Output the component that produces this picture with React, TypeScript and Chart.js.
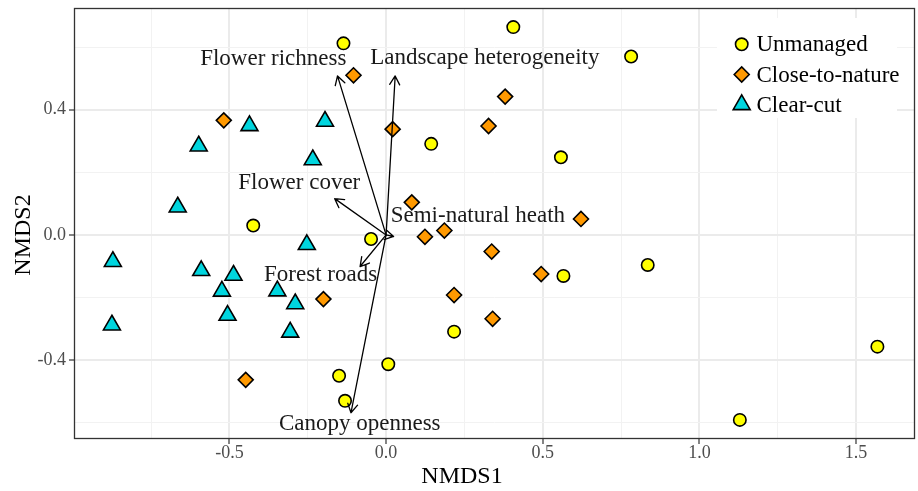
import React, { useEffect, useRef } from 'react';
import { Chart, registerables } from 'chart.js';
import { drawPoint } from 'chart.js/helpers';

Chart.register(...registerables);

// ---------- data ----------
const unmanagedX = [-0.136, 0.406, 0.782, 0.144, 0.558, -0.424, -0.048, 0.566, 0.835, 0.217, 0.007, -0.150, -0.131, 1.568, 1.129];
const unmanagedY = [0.612, 0.664, 0.570, 0.291, 0.248, 0.030, -0.013, -0.131, -0.096, -0.309, -0.413, -0.450, -0.530, -0.357, -0.591];

const closeX = [-0.104, -0.518, 0.021, 0.380, 0.327, 0.082, 0.124, 0.186, 0.622, 0.337, 0.495, 0.217, -0.200, 0.340, -0.448];
const closeY = [0.510, 0.366, 0.338, 0.442, 0.348, 0.104, -0.006, 0.014, 0.051, -0.053, -0.125, -0.192, -0.205, -0.268, -0.463];

const clearX = [-0.598, -0.436, -0.195, -0.234, -0.665, -0.872, -0.590, -0.487, -0.524, -0.347, -0.290, -0.506, -0.306, -0.875, -0.253];
const clearY = [0.284, 0.349, 0.363, 0.240, 0.089, -0.085, -0.114, -0.129, -0.180, -0.179, -0.220, -0.257, -0.311, -0.288, -0.031];

const arrowLabels = ['Flower richness', 'Landscape heterogeneity', 'Flower cover', 'Semi-natural heath', 'Forest roads', 'Canopy openness'];
const arrowX = [-0.155, 0.029, -0.164, 0.024, -0.083, -0.112];
const arrowY = [0.508, 0.508, 0.116, -0.005, -0.101, -0.568];
const labelX = [-0.360, 0.315, -0.277, 0.293, -0.209, -0.084];
const labelY = [0.562, 0.567, 0.166, 0.062, -0.128, -0.604];

const xMajorTicks = [-0.5, 0, 0.5, 1, 1.5];
const xMinorTicks = [-0.75, -0.25, 0.25, 0.75, 1.25];
const yMajorTicks = [-0.4, 0, 0.4];
const yMinorTicks = [-0.6, -0.2, 0.2, 0.6];

const seriesNames = ['Unmanaged', 'Close-to-nature', 'Clear-cut'];
const seriesColors = ['#FFFF00', '#FF9900', '#00D5DE'];
const seriesStyles = ['circle', 'rectRot', 'triangle'];
const seriesRadius = [6.2, 7.5, 9.8];

const FONT = '"Liberation Serif", "Times New Roman", serif';

const isIn = (v: number, arr: number[]) => arr.some((a) => Math.abs(a - v) < 1e-6);

function toPoints(xs: number[], ys: number[]) {
  return xs.map((x, i) => ({ x, y: ys[i] }));
}

const overlayPlugin = {
  id: 'overlay',
  afterDatasetsDraw(chart: any) {
    const ctx = chart.ctx as CanvasRenderingContext2D;
    const xs = chart.scales.x;
    const ys = chart.scales.y;
    const ox = xs.getPixelForValue(0);
    const oy = ys.getPixelForValue(0);
    ctx.save();
    ctx.strokeStyle = '#000000';
    ctx.lineWidth = 1.3;
    ctx.lineCap = 'round';
    ctx.lineJoin = 'round';
    for (let i = 0; i < arrowX.length; i++) {
      const x1 = xs.getPixelForValue(arrowX[i]);
      const y1 = ys.getPixelForValue(arrowY[i]);
      const ang = Math.atan2(y1 - oy, x1 - ox);
      const L = 10;
      const a = Math.PI / 6;
      ctx.beginPath();
      ctx.moveTo(ox, oy);
      ctx.lineTo(x1, y1);
      ctx.moveTo(x1 - L * Math.cos(ang - a), y1 - L * Math.sin(ang - a));
      ctx.lineTo(x1, y1);
      ctx.lineTo(x1 - L * Math.cos(ang + a), y1 - L * Math.sin(ang + a));
      ctx.stroke();
    }
    ctx.fillStyle = '#1A1A1A';
    ctx.font = `23px ${FONT}`;
    ctx.textAlign = 'center';
    ctx.textBaseline = 'middle';
    for (let i = 0; i < arrowLabels.length; i++) {
      ctx.fillText(arrowLabels[i], xs.getPixelForValue(labelX[i]), ys.getPixelForValue(labelY[i]));
    }
    ctx.restore();
  },
  afterDraw(chart: any) {
    const ctx = chart.ctx as CanvasRenderingContext2D;
    const ca = chart.chartArea;
    ctx.save();
    // legend
    ctx.fillStyle = '#FFFFFF';
    ctx.fillRect(717, 18, 180, 100);
    const rows = [44.3, 74.5, 104.7];
    for (let i = 0; i < seriesNames.length; i++) {
      ctx.fillStyle = seriesColors[i];
      ctx.strokeStyle = '#000000';
      ctx.lineWidth = 1.6;
      drawPoint(ctx, { pointStyle: seriesStyles[i], radius: seriesRadius[i], rotation: 0, borderWidth: 1.6 } as any, 741.7, rows[i]);
      ctx.fillStyle = '#000000';
      ctx.font = `23px ${FONT}`;
      ctx.textAlign = 'left';
      ctx.textBaseline = 'middle';
      ctx.fillText(seriesNames[i], 756.5, rows[i] + 1);
    }
    // panel border
    ctx.strokeStyle = '#333333';
    ctx.lineWidth = 1.3;
    ctx.strokeRect(ca.left + 0.5, ca.top + 0.5, ca.right - ca.left - 1, ca.bottom - ca.top - 1);
    // axis titles
    ctx.fillStyle = '#000000';
    ctx.font = `24px ${FONT}`;
    ctx.textAlign = 'center';
    ctx.textBaseline = 'middle';
    ctx.fillText('NMDS1', 462, 477);
    ctx.translate(24, 235);
    ctx.rotate(-Math.PI / 2);
    ctx.fillText('NMDS2', 0, 0);
    ctx.restore();
  },
};

export default function App() {
  const ref = useRef<HTMLCanvasElement>(null);
  useEffect(() => {
    document.body.style.margin = '0';
    const datasets = [
      toPoints(unmanagedX, unmanagedY),
      toPoints(closeX, closeY),
      toPoints(clearX, clearY),
    ].map((data, i) => ({
      label: seriesNames[i],
      data,
      pointStyle: seriesStyles[i],
      pointRadius: seriesRadius[i],
      pointHoverRadius: seriesRadius[i],
      pointBackgroundColor: seriesColors[i],
      pointBorderColor: '#000000',
      pointBorderWidth: 1.6,
      backgroundColor: seriesColors[i],
      borderColor: '#000000',
    }));

    const gridOpts = (major: number[]) => ({
      color: (c: any) => (c.tick && isIn(c.tick.value, major) ? '#EBEBEB' : '#F2F2F2'),
      lineWidth: (c: any) => (c.tick && isIn(c.tick.value, major) ? 2 : 1),
      tickColor: (c: any) => (c.tick && isIn(c.tick.value, major) ? '#333333' : 'rgba(0,0,0,0)'),
      tickWidth: 1.2,
      tickLength: 5,
      drawTicks: true,
    });

    const chart = new Chart(ref.current as HTMLCanvasElement, {
      type: 'scatter',
      data: { datasets },
      plugins: [overlayPlugin],
      options: {
        animation: false,
        responsive: true,
        maintainAspectRatio: false,
        events: [],
        layout: { autoPadding: false, padding: { left: 0, right: 3, top: 8, bottom: 0 } },
        plugins: { legend: { display: false }, tooltip: { enabled: false } },
        scales: {
          x: {
            type: 'linear',
            min: -0.996,
            max: 1.688,
            afterBuildTicks: (s: any) => {
              s.ticks = [...xMinorTicks, ...xMajorTicks].sort((a, b) => a - b).map((v) => ({ value: v }));
            },
            afterFit: (s: any) => {
              s.height = 52;
              s.paddingLeft = 0;
              s.paddingRight = 0;
            },
            grid: gridOpts(xMajorTicks) as any,
            border: { display: false },
            ticks: {
              autoSkip: false,
              maxRotation: 0,
              padding: 0,
              color: '#4D4D4D',
              font: { family: FONT, size: 18, lineHeight: 1 },
              callback: (v: any) => (isIn(Number(v), xMajorTicks) ? Number(v).toFixed(1) : ''),
            },
          },
          y: {
            type: 'linear',
            min: -0.652,
            max: 0.725,
            afterBuildTicks: (s: any) => {
              s.ticks = [...yMinorTicks, ...yMajorTicks].sort((a, b) => a - b).map((v) => ({ value: v }));
            },
            afterFit: (s: any) => {
              s.width = 74;
              s.paddingTop = 0;
              s.paddingBottom = 0;
            },
            grid: gridOpts(yMajorTicks) as any,
            border: { display: false },
            ticks: {
              autoSkip: false,
              padding: 3,
              color: '#4D4D4D',
              font: { family: FONT, size: 18, lineHeight: 1 },
              callback: (v: any) => (isIn(Number(v), yMajorTicks) ? Number(v).toFixed(1) : ''),
            },
          },
        },
      },
    } as any);
    return () => chart.destroy();
  }, []);

  return (
    <div style={{ position: 'relative', width: 918, height: 491 }}>
      <canvas ref={ref} />
    </div>
  );
}
